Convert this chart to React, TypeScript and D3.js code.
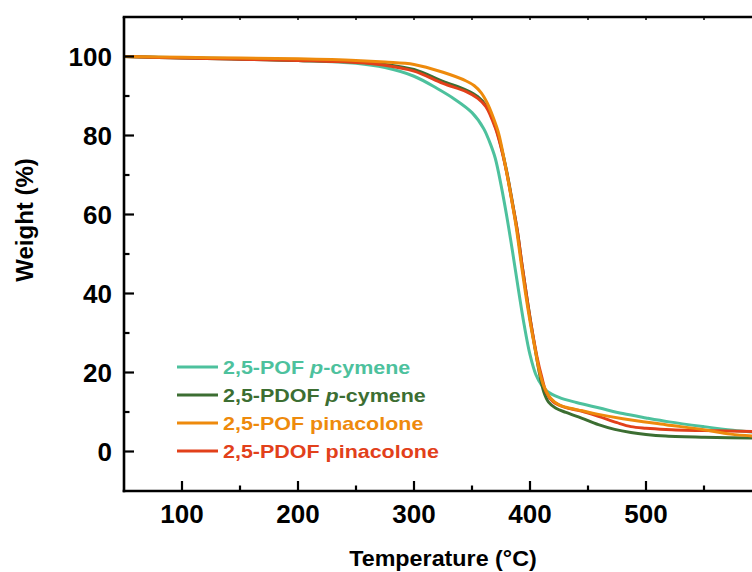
import React from "react";
import * as d3 from "d3";

const tealData: [number, number][] = [
  [50, 100], [100, 99.7], [150, 99.4], [200, 99.0], [250, 98.3], [275, 97.2], [300, 95.0],
  [320, 91.9], [335, 89.2], [350, 85.8], [360, 81.8], [365, 78.5], [370, 74.3],
  [375, 67.5], [380, 59.5], [385, 50.5], [390, 41], [395, 32], [400, 24.5], [405, 19.5],
  [410, 16.8], [415, 15.2], [425, 13.7], [440, 12.4], [460, 11.0], [480, 9.6], [500, 8.5],
  [520, 7.5], [550, 6.3], [575, 5.4], [600, 4.7],
];
const greenData: [number, number][] = [
  [50, 100], [100, 99.6], [150, 99.3], [200, 99.0], [250, 98.6], [275, 98.0], [300, 96.7],
  [325, 93.7], [345, 91.5], [355, 89.8], [362, 87.6], [370, 82.5], [375, 77.3], [380, 70.8], [385, 62.8],
  [389, 56], [393, 47.5], [397, 39.5], [401, 32], [405, 25], [408, 20], [412, 15],
  [416, 12.5], [422, 11.0], [431, 9.9], [445, 8.4], [459, 6.8], [473, 5.6], [487, 4.8],
  [500, 4.3], [517, 3.9], [550, 3.6], [600, 3.4],
];
const orangeData: [number, number][] = [
  [50, 100], [100, 99.8], [150, 99.6], [200, 99.4], [250, 99.0], [275, 98.6], [300, 98.0],
  [325, 96.0], [345, 93.8], [352, 92.6], [358, 90.8], [363, 88.3], [368, 84.8],
  [373, 80.5], [378, 73.5], [384, 64], [388, 57], [392, 48.5], [396, 40.3], [400, 33],
  [405, 25], [408, 20.5], [412, 16.5], [418, 13.4], [425, 11.8], [431, 11.2], [445, 10.3],
  [459, 9.4], [480, 8.3], [517, 6.8], [550, 5.5], [573, 4.4], [600, 3.8],
];
const redData: [number, number][] = [
  [50, 100], [100, 99.6], [150, 99.3], [200, 99.0], [250, 98.5], [275, 97.8], [300, 96.3],
  [325, 93.2], [345, 91.1], [355, 89.4], [362, 87.3], [370, 82], [375, 77], [380, 70.5],
  [385, 62.5], [389, 56], [393, 47.5], [397, 39.5], [401, 32], [406, 24], [410, 19],
  [414, 15], [420, 12.6], [431, 11.1], [445, 10.2], [459, 8.9], [475, 7.3], [487, 6.3],
  [500, 5.9], [517, 5.6], [550, 5.3], [600, 5.0],
];

const seriesNames = ["2,5-POF ", "2,5-PDOF ", "2,5-POF pinacolone", "2,5-PDOF pinacolone"];
const seriesItalic = ["p", "p", "", ""];
const seriesSuffix = ["-cymene", "-cymene", "", ""];
const seriesColors = ["#4DC19D", "#3C6E32", "#EE8A0C", "#E2401A"];
const seriesData = [tealData, greenData, orangeData, redData];
const drawOrder = [0, 1, 3, 2];

const xMajor = [100, 200, 300, 400, 500, 600];
const xLabels = [100, 200, 300, 400, 500];
const xMinor = [150, 250, 350, 450, 550];
const yMajor = [0, 20, 40, 60, 80, 100];
const yMinor = [10, 30, 50, 70, 90];

const FONT = "'Liberation Sans', Arial, Helvetica, sans-serif";

export default function App() {
  const W = 752, H = 572;
  const left = 124, right = 762, top = 17, bottom = 491;
  const x = d3.scaleLinear().domain([50, 600]).range([left, right]);
  const y = d3.scaleLinear().domain([-10, 110]).range([bottom, top]);
  const line = d3
    .line<[number, number]>()
    .x((d) => x(d[0]))
    .y((d) => y(d[1]))
    .curve(d3.curveCatmullRom.alpha(0.5));

  const legendX1 = 177, legendX2 = 218, legendTextX = 223;
  const legendY0 = 367, legendDy = 28;

  return (
    <svg
      width={W}
      height={H}
      style={{ position: "absolute", left: 0, top: 0, display: "block", background: "#fff" }}
      fontFamily={FONT}
    >
      <defs>
        <clipPath id="plotClip">
          <rect x={left} y={top} width={right - left} height={bottom - top} />
        </clipPath>
      </defs>
      <rect x={0} y={0} width={W} height={H} fill="#fff" />

      <g clipPath="url(#plotClip)">
        {drawOrder.map((i) => (
          <path
            key={i}
            d={line(seriesData[i]) || ""}
            fill="none"
            stroke={seriesColors[i]}
            strokeWidth={3}
            strokeLinejoin="round"
          />
        ))}
      </g>

      {/* axes */}
      <g stroke="#000" strokeWidth={2.6} fill="none">
        <line x1={left} y1={top} x2={left} y2={bottom + 1.3} />
        <line x1={left - 1.3} y1={bottom} x2={right} y2={bottom} />
        <line x1={left - 1.3} y1={top} x2={right} y2={top} />
      </g>
      <g stroke="#000" strokeWidth={2.2}>
        {yMajor.map((v) => (
          <line key={"ym" + v} x1={left} x2={left + 10} y1={y(v)} y2={y(v)} />
        ))}
        {yMinor.map((v) => (
          <line key={"yn" + v} x1={left} x2={left + 5.5} y1={y(v)} y2={y(v)} />
        ))}
        {xMajor.map((v) => (
          <line key={"xm" + v} x1={x(v)} x2={x(v)} y1={bottom} y2={bottom - 10} />
        ))}
        {xMinor.map((v) => (
          <line key={"xn" + v} x1={x(v)} x2={x(v)} y1={bottom} y2={bottom - 5.5} />
        ))}
        {[...xMajor, ...xMinor].map((v) => (
          <line key={"xt" + v} x1={x(v)} x2={x(v)} y1={top} y2={top + 3} strokeWidth={1.5} />
        ))}
      </g>

      {/* tick labels */}
      <g fontWeight="bold" fontSize={26} fill="#000">
        {yMajor.map((v) => (
          <text key={"yl" + v} x={left - 12} y={y(v)} dy="0.36em" textAnchor="end">
            {v}
          </text>
        ))}
        {xLabels.map((v) => (
          <text key={"xl" + v} x={x(v)} y={bottom + 32} textAnchor="middle">
            {v}
          </text>
        ))}
      </g>

      {/* axis titles */}
      <text
        x={443}
        y={566}
        textAnchor="middle"
        fontWeight="bold"
        fontSize={22}
        fill="#000"
        transform="translate(443,0) scale(1.06,1) translate(-443,0)"
      >
        Temperature (°C)
      </text>
      <text
        transform="translate(33,220) rotate(-90)"
        textAnchor="middle"
        fontWeight="bold"
        fontSize={24}
        fill="#000"
      >
        Weight (%)
      </text>

      {/* legend */}
      {seriesNames.map((name, i) => {
        const ly = legendY0 + i * legendDy;
        return (
          <g key={"lg" + i}>
            <line x1={legendX1} x2={legendX2} y1={ly} y2={ly} stroke={seriesColors[i]} strokeWidth={3} />
            <text
              transform={`translate(${legendTextX},${ly + 6.5}) scale(1.13,1)`}
              fontWeight="bold"
              fontSize={19}
              fill={seriesColors[i]}
            >
              {name}
              {seriesItalic[i] ? <tspan fontStyle="italic">{seriesItalic[i]}</tspan> : null}
              {seriesSuffix[i]}
            </text>
          </g>
        );
      })}
    </svg>
  );
}
